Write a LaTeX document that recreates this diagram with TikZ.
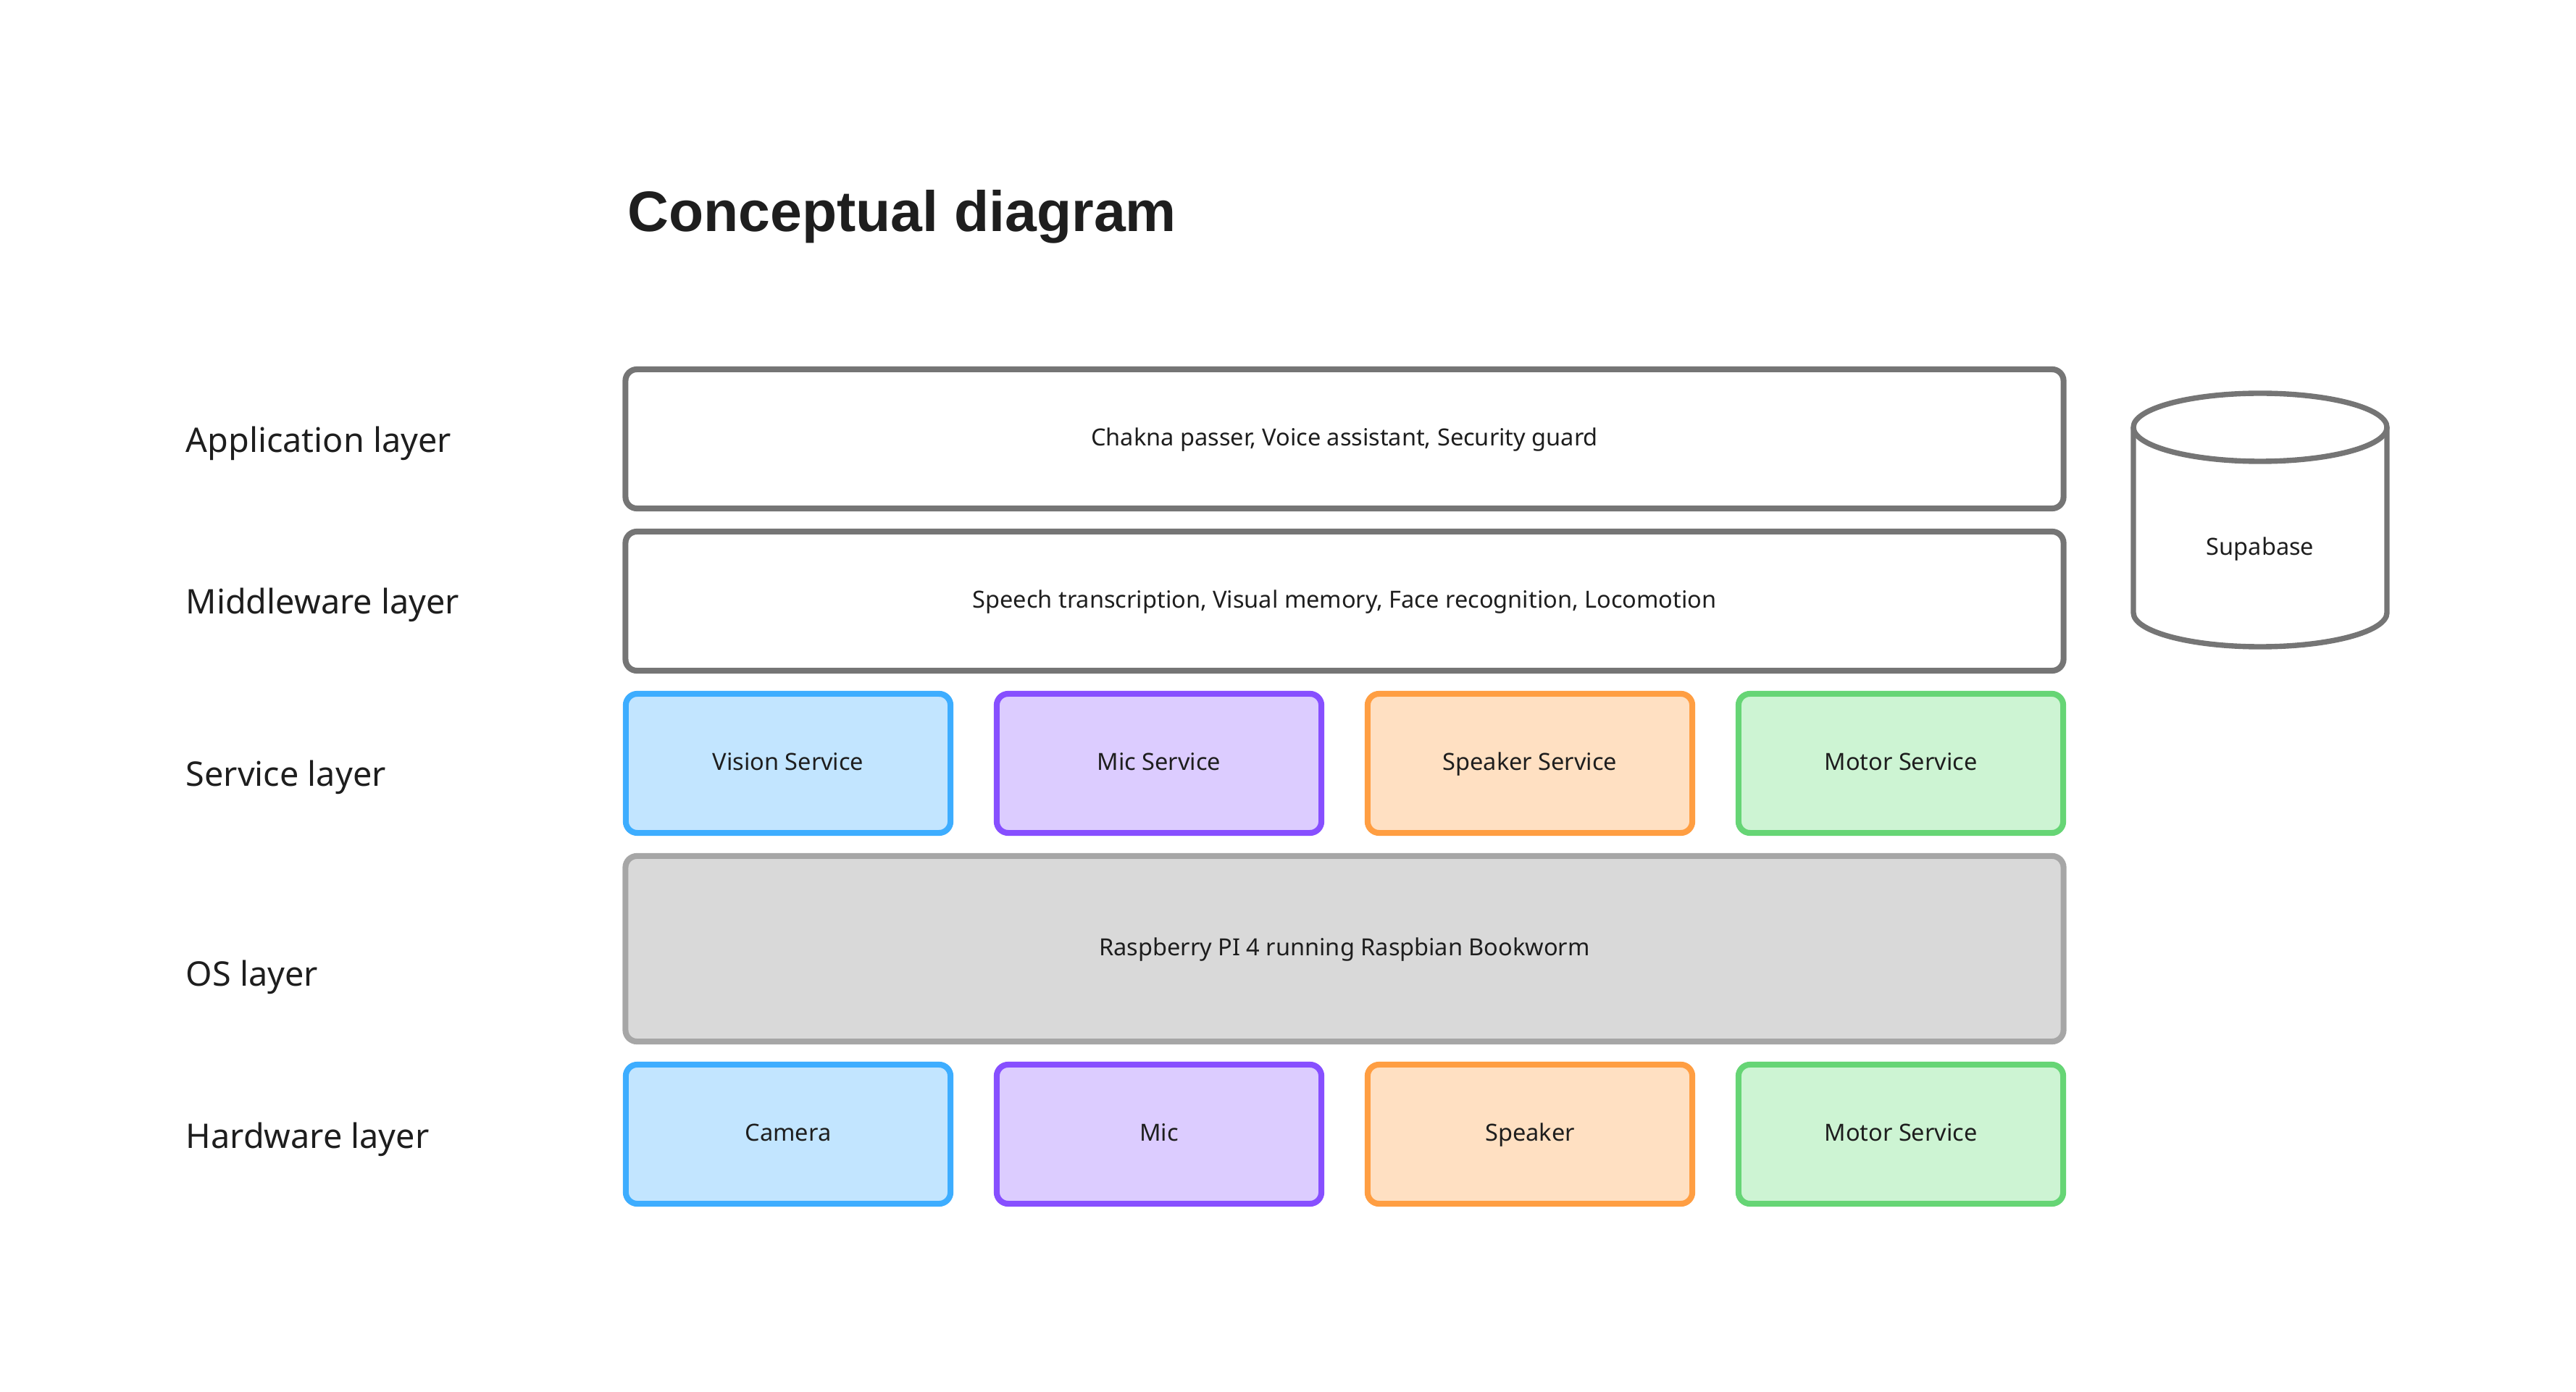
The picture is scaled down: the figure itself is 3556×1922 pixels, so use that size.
\documentclass[tikz,border=0pt]{standalone}
\usepackage{fontspec}
\setmainfont{Noto Sans}
\newfontfamily\titlefont{Liberation Sans}
\usetikzlibrary{positioning}
\definecolor{inkdark}{HTML}{1E1E1E}
\definecolor{strokegray}{HTML}{757575}
\definecolor{fillos}{HTML}{D9D9D9}
\definecolor{strokeos}{HTML}{A6A6A6}
\definecolor{fillblue}{HTML}{C2E5FF}
\definecolor{strokeblue}{HTML}{3DADFF}
\definecolor{fillviolet}{HTML}{DCCCFF}
\definecolor{strokeviolet}{HTML}{874FFF}
\definecolor{fillorange}{HTML}{FFE0C2}
\definecolor{strokeorange}{HTML}{FF9E42}
\definecolor{fillgreen}{HTML}{CDF4D3}
\definecolor{strokegreen}{HTML}{66D575}

\begin{document}
\begin{tikzpicture}[x=0.01cm, y=-0.01cm,
  layerbox/.style={draw, line width=2.3pt, rounded corners=4.5pt, inner sep=0pt,
    minimum height=1.92cm, text=inkdark, text height=0.75em, text depth=0.22em,
    font=\fontsize{9.25pt}{11pt}\selectfont},
  widebox/.style={layerbox, draw=strokegray, fill=white, minimum width=19.84cm},
  unitbox/.style={layerbox, minimum width=4.48cm},
  layerlabel/.style={anchor=base west, text=inkdark, inner sep=0pt,
    font=\fontsize{13.3pt}{16pt}\selectfont}]
  \useasboundingbox (0,0) rectangle (3556,1922);

  \node[anchor=base west, inner sep=0pt, text=inkdark, font=\titlefont\fontsize{22.4pt}{27pt}\selectfont\bfseries]
    (title) at (866,320) {Conceptual diagram};

  % layer names
  \node[layerlabel] (lblapp) at (256,625) {Application layer};
  \node[layerlabel] (lblmid) at (256,848) {Middleware layer};
  \node[layerlabel] (lblsvc) at (256,1086) {Service layer};
  \node[layerlabel] (lblos) at (256,1361) {OS layer};
  \node[layerlabel] (lblhw) at (256,1585) {Hardware layer};

  % stack
  \node[widebox] (app) at (1856,606) {Chakna passer, Voice assistant, Security guard};
  \node[widebox] (mid) at (1856,830) {Speech transcription, Visual memory, Face recognition, Locomotion};
  \node[widebox, draw=strokeos, fill=fillos, minimum height=2.56cm] (os) at (1856,1310)
    {Raspberry PI 4 running Raspbian Bookworm};
  \foreach \i/\svc/\hw/\col in {1/Vision Service/Camera/blue, 2/Mic Service/Mic/violet,
      3/Speaker Service/Speaker/orange, 4/Motor Service/Motor Service/green} {
    \node[unitbox, draw=stroke\col, fill=fill\col] (svc\i) at ({576+512*\i},1054) {\svc};
    \node[unitbox, draw=stroke\col, fill=fill\col] (hw\i) at ({576+512*\i},1566) {\hw};
  }

  % database
  \draw[line width=2.1pt, strokegray] (2945,590) -- (2945,846)
    arc[start angle=180, end angle=0, x radius=175, y radius=47] -- (3295,590);
  \draw[line width=2.1pt, strokegray] (3120,590) ellipse[x radius=175, y radius=47];
  \node[text=inkdark, font=\fontsize{9.25pt}{11pt}\selectfont] (supabase) at (3120,758) {Supabase};
\end{tikzpicture}
\end{document}
